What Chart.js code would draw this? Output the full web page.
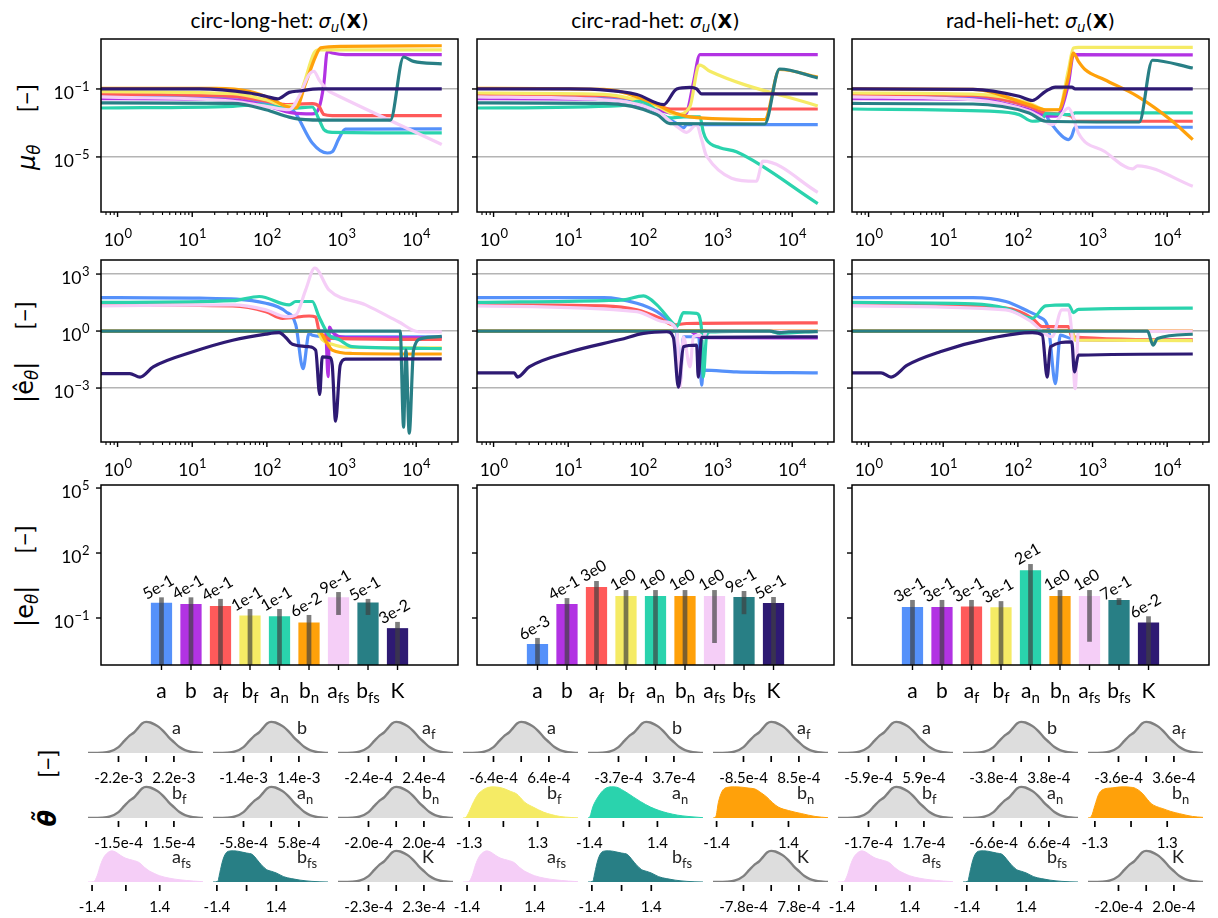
<!DOCTYPE html>
<html>
<head>
<meta charset="utf-8">
<script src="https://cdn.jsdelivr.net/npm/chart.js@4.4.1/dist/chart.umd.min.js"></script>
<style>
  body { margin: 0; background: #fff; }
  #fig { position: relative; width: 1218px; height: 918px; overflow: hidden; background: #fff; font-family: Lato, "DejaVu Sans", sans-serif; color: #000; }
  #fig canvas { position: absolute; }
  .title { position: absolute; top: 7px; width: 357px; text-align: center; font-size: 21px; line-height: 26px; white-space: nowrap; }
  .m { font-family: "DejaVu Sans", sans-serif; }
  .title .m { font-size: 19px; }
  .sub { font-size: 70%; position: relative; top: 0.3em; }
  .ylab { position: absolute; transform: translate(-50%, -50%) rotate(-90deg); font-size: 24px; line-height: 1; white-space: nowrap; }
  .gap { display: inline-block; width: 32px; }
</style>
</head>
<body>
<div id="fig">
  <div class="ylab" style="left:26px;top:127px"><span class="m"><i>μ</i><span class="sub"><i>θ</i></span></span><span class="gap"></span>[−]</div>
  <div class="ylab" style="left:24px;top:352px"><span class="m">|ê<span class="sub"><i>θ</i></span>|</span><span class="gap"></span>[−]</div>
  <div class="ylab" style="left:24px;top:576px"><span class="m">|e<span class="sub"><i>θ</i></span>|</span><span class="gap"></span>[−]</div>
  <div class="ylab" style="left:47px;top:788px"><span class="m"><b><i>θ̃</i></b></span><span class="gap"></span>[−]</div>
</div>
<script>
// ---- data ----
const cases = ['circ-long-het', 'circ-rad-het', 'rad-heli-het'];
const params = ['a', 'b', 'af', 'bf', 'an', 'bn', 'afs', 'bfs', 'K'];
const paramColors = ['#5591fa', '#b233e3', '#ff5a5a', '#f5eb65', '#2ad3ad', '#ffa10a', '#f5cef7', '#287f85', '#2e1a73'];

// mean of parameter vs iteration, [iteration, value]
const muLong_a = [[0.6,0.041],[35,0.034],[97,0.015],[220,0.006],[244,0.0035],[406,6.6e-5],[644,1.7e-5],[751,2.0e-5],[921,1.2e-4],[1130,4.3e-4],[22000,4.5e-4]];
const muLong_b = [[0.6,0.027],[35,0.023],[97,0.0105],[220,0.0039],[406,0.0034],[499,0.0076],[581,0.22],[644,16],[751,13],[1130,10.5],[22000,10.5]];
const muLong_af = [[0.6,0.049],[35,0.037],[97,0.019],[179,0.012],[406,0.0137],[499,0.0095],[581,0.0031],[751,0.0027],[22000,0.0027]];
const muLong_bf = [[0.6,0.069],[35,0.053],[97,0.023],[179,0.0105],[244,0.0105],[315,0.22],[428,13],[499,20],[22000,20]];
const muLong_an = [[0.6,0.0076],[35,0.0095],[79,0.012],[162,0.0076],[220,0.0073],[406,0.0087],[499,0.0016],[581,4.1e-4],[751,2.8e-4],[22000,2.6e-4]];
const muLong_bn = [[0.6,0.11],[21,0.11],[58,0.073],[119,0.024],[179,0.0095],[244,0.0076],[331,0.22],[450,8.4],[525,26],[1020,32],[22000,35]];
const muLong_afs = [[0.6,0.034],[35,0.019],[97,0.0095],[199,0.006],[270,0.037],[367,0.7],[428,1.1],[499,0.35],[678,0.073],[751,0.058],[22000,5.4e-5]];
const muLong_bfs = [[0.6,0.015],[35,0.014],[97,0.006],[199,0.0022],[270,0.0017],[751,0.00145],[4500,0.00145],[6780,7.6],[9210,4.2],[22000,3.0]];
const muLong_K = [[0.6,0.1],[12.5,0.1],[58,0.058],[97,0.037],[139,0.026],[199,0.063],[270,0.076],[499,0.1],[22000,0.1]];

const muRad_a = [[0.6,0.037],[30,0.033],[83,0.019],[189,0.0025],[284,9.1e-4],[349,5.1e-4],[386,7.9e-4],[22000,7.9e-4]];
const muRad_b = [[0.6,0.027],[30,0.024],[154,0.006],[231,0.0039],[349,0.0031],[386,0.004],[474,0.22],[581,10.5],[22000,10.5]];
const muRad_af = [[0.6,0.047],[30,0.04],[154,0.012],[231,0.0066],[22000,0.0066]];
const muRad_bf = [[0.6,0.058],[30,0.048],[154,0.0095],[284,0.0031],[428,0.0095],[552,2.2],[581,2.5],[790,1.1],[22000,0.01]];
const muRad_an = [[0.6,0.0076],[50,0.0105],[92,0.019],[231,0.002],[349,0.0023],[581,0.0023],[644,3e-4],[714,1.0e-4],[1074,3.5e-5],[1790,2.0e-5],[22000,1.8e-8]];
const muRad_bn = [[0.6,0.11],[30,0.095],[154,0.012],[231,0.0049],[428,0.0023],[4280,0.0016],[6780,1.4],[22000,0.5]];
const muRad_afs = [[0.6,0.034],[30,0.023],[154,0.0049],[284,6.3e-4],[386,2.8e-4],[525,7.9e-4],[612,1.05e-4],[714,1.1e-5],[3310,3.7e-7],[4060,5.6e-6],[22000,8.3e-8]];
const muRad_bfs = [[0.6,0.015],[30,0.014],[154,0.0031],[231,9.1e-4],[4280,8.7e-4],[6780,1.5],[22000,0.44]];
const muRad_K = [[0.6,0.1],[10.7,0.1],[83,0.047],[189,0.012],[284,0.1],[428,0.125],[525,0.1],[612,0.051],[22000,0.051]];

const muHeli_a = [[0.6,0.037],[25,0.034],[141,0.0095],[235,0.0031],[259,0.0015],[389,1.7e-4],[477,1.05e-4],[527,1.7e-4],[585,5.6e-4],[22000,5.6e-4]];
const muHeli_b = [[0.6,0.027],[25,0.025],[141,0.006],[235,0.0027],[318,0.0025],[352,0.0031],[477,0.22],[555,10.5],[22000,10]];
const muHeli_af = [[0.6,0.047],[25,0.042],[141,0.0095],[235,0.0039],[527,0.0025],[585,0.00126],[22000,0.00126]];
const muHeli_bf = [[0.6,0.058],[25,0.05],[141,0.015],[235,0.006],[352,0.006],[477,1.4],[555,26],[647,28],[22000,28]];
const muHeli_an = [[0.6,0.0066],[42,0.0049],[104,0.0031],[156,0.00126],[212,0.0016],[235,0.0036],[527,0.0031],[585,0.0039],[22000,0.0039]];
const muHeli_bn = [[0.6,0.1],[25,0.095],[141,0.012],[235,0.006],[352,0.006],[477,0.56],[555,13],[647,4.2],[792,1.4],[1455,0.35],[4010,0.037],[11000,0.0016],[22000,1.05e-4]];
const muHeli_afs = [[0.6,0.034],[25,0.023],[141,0.0049],[191,0.0025],[287,7.9e-4],[477,0.0076],[527,0.0039],[647,2.6e-4],[1455,2.1e-5],[3440,2.0e-6],[4010,3.0e-6],[22000,1.9e-7]];
const muHeli_bfs = [[0.6,0.014],[25,0.013],[141,0.0039],[235,0.00126],[4220,0.00114],[6340,4.9],[22000,1.7]];
const muHeli_K = [[0.6,0.1],[25,0.095],[104,0.037],[156,0.021],[235,0.073],[318,0.13],[527,0.13],[585,0.1],[22000,0.1]];

// relative error estimate vs iteration
const eLong_a = [[0.6,58],[12.5,54],[97,29],[179,10.5],[244,2.1],[305,0.0105],[367,0.75],[406,0.6],[750,0.5],[22000,0.5]];
const eLong_b = [[0.6,1],[612,1],[660,0.004],[690,1.6],[750,0.9],[1130,0.45],[22000,0.44]];
const eLong_af = [[0.6,24],[35,21],[97,10.5],[162,4.7],[367,6.2],[450,5.5],[499,1.1],[751,0.41],[22000,0.36]];
const eLong_bf = [[0.6,1],[470,1],[550,0.35],[750,0.2],[1130,0.14],[22000,0.13]];
const eLong_an = [[0.6,32],[35,40],[79,66],[199,24],[244,36],[406,36],[499,5.7],[678,0.61],[921,0.36],[1387,0.15],[22000,0.12]];
const eLong_bn = [[0.6,1],[499,1],[612,0.3],[751,0.1],[1387,0.066],[22000,0.062]];
const eLong_afs = [[0.6,21],[35,24],[97,13],[179,5.7],[244,7],[331,148],[438,2080],[678,148],[2100,24],[5800,3.1],[10700,0.92],[22000,0.9]];
const eLong_bfs = [[0.6,1],[6100,1],[6780,8.7e-6],[7280,0.1],[8070,4.2e-6],[9210,0.1],[11900,0.41],[22000,0.52]];
const eLong_K = [[0.6,0.0057],[1.46,0.0057],[2.0,0.0038],[3.0,0.013],[10.2,0.081],[34.8,0.33],[97,0.69],[146,0.82],[179,0.46],[220,0.2],[367,0.15],[450,0.099],[510,4.6e-4],[552,0.044],[700,0.04],[751,0.016],[832,1.8e-5],[960,0.016],[1130,0.033],[22000,0.034]];

const eRad_a = [[0.6,58],[30,58],[83,29],[154,10.5],[231,3.1],[284,0.75],[315,0.0021],[349,0.5],[560,0.5],[612,0.0014],[644,0.0087],[1790,0.0071],[22000,0.0063]];
const eRad_b = [[0.6,1],[428,1],[525,0.6],[612,0.45],[22000,0.44]];
const eRad_af = [[0.6,24],[30,21],[83,13],[170,4.7],[256,2.1],[386,2.5],[22000,2.7]];
const eRad_bf = [[0.6,1],[22000,1.04]];
const eRad_an = [[0.6,32],[30,40],[55,44],[102,71],[154,24],[231,3.8],[284,1.7],[349,9.3],[525,8.6],[612,1.13],[644,0.0038],[714,0.61],[790,0.9],[4990,1],[6780,0.75],[22000,1.0]];
const eRad_bn = [[0.6,1],[22000,1.04]];
const eRad_afs = [[0.6,21],[83,10.5],[189,3.1],[284,1.13],[315,0.0011],[349,0.5],[428,0.013],[474,0.5],[581,0.61],[644,0.41],[714,1],[22000,1.0]];
const eRad_bfs = [[0.6,1],[4990,1],[6780,0.82],[9000,0.92],[22000,0.93]];
const eRad_K = [[0.6,0.0063],[1.89,0.0063],[2.09,0.0038],[3.0,0.013],[10.7,0.081],[49.9,0.36],[102,0.75],[209,0.92],[256,0.46],[299,0.0011],[349,0.15],[525,0.18],[552,0.0038],[612,0.46],[22000,0.49]];

const eHeli_a = [[0.6,58],[25,58],[69,36],[141,10.5],[191,5.7],[259,1.13],[318,0.0017],[370,0.61],[527,0.4],[22000,0.32]];
const eHeli_b = [[0.6,1],[527,1],[585,0.35],[22000,0.32]];
const eHeli_af = [[0.6,30],[69,16],[156,4.7],[212,1.7],[477,1.7],[527,0.5],[22000,0.34]];
const eHeli_bf = [[0.6,1],[527,1],[585,0.33],[22000,0.31]];
const eHeli_an = [[0.6,32],[25,27],[69,16],[156,4.7],[235,21],[477,24],[555,9.3],[647,14],[22000,16]];
const eHeli_bn = [[0.6,1],[22000,1.04]];
const eHeli_afs = [[0.6,21],[69,13],[141,3.8],[287,0.5],[389,13],[477,13],[527,0.75],[585,9.3e-4],[647,0.92],[22000,1.0]];
const eHeli_bfs = [[0.6,1],[5450,1],[6470,0.18],[7380,0.41],[22000,0.68]];
const eHeli_K = [[0.6,0.0063],[1.47,0.0063],[2.0,0.0038],[3.3,0.016],[9.1,0.081],[42,0.41],[156,0.82],[212,0.61],[247,0.0038],[273,0.15],[527,0.27],[572,0.0071],[647,0.054],[22000,0.062]];

// final relative error with spread
const errLong = [0.5, 0.44, 0.36, 0.13, 0.12, 0.062, 0.9, 0.52, 0.034];
const errLongHi = [0.9, 0.9, 0.76, 0.26, 0.26, 0.138, 1.58, 0.76, 0.066];
const errLongLo = [0, 0, 0, 0, 0, 0, 0.138, 0.138, 0];
const errRad = [0.0063, 0.44, 2.7, 1.04, 1.04, 1.04, 1.04, 0.93, 0.49];
const errRadHi = [0.012, 0.83, 5.1, 1.95, 1.95, 1.95, 1.95, 1.76, 0.93];
const errRadLo = [0, 0, 0, 0, 0, 0, 0.007, 0.15, 0];
const errHeli = [0.32, 0.32, 0.34, 0.31, 16, 1.04, 1.04, 0.68, 0.062];
const errHeliHi = [0.68, 0.68, 0.68, 0.6, 31, 1.95, 1.95, 0.83, 0.12];
const errHeliLo = [0, 0, 0, 0, 0, 0, 0.008, 0.4, 0];

// posterior densities, standardized x (1 = one tick step)
const kdeTickLong = [2.2e-3, 1.4e-3, 2.4e-4, 1.5e-4, 5.8e-4, 2.0e-4, 1.4, 1.4, 2.3e-4];
const kdeTickRad = [6.4e-4, 3.7e-4, 8.5e-4, 1.3, 1.4, 1.4, 1.4, 1.4, 7.8e-4];
const kdeTickHeli = [5.9e-4, 3.8e-4, 3.6e-4, 1.7e-4, 6.6e-4, 1.3, 1.4, 1.4, 2.0e-4];
const kdeShapeLong = ['grey', 'grey', 'grey', 'grey', 'grey', 'grey', 'afs', 'bfs', 'grey'];
const kdeShapeRad = ['grey', 'grey', 'grey', 'bfRad', 'anRad', 'bnRad', 'afs', 'bfs', 'grey'];
const kdeShapeHeli = ['grey', 'grey', 'grey', 'grey', 'grey', 'bnHeli', 'afs', 'bfs', 'grey'];

const kdeGreyZ = [-2.1,-1.6,-1.3,-1.0,-0.8,-0.6,-0.45,-0.3,-0.15,0,0.15,0.3,0.45,0.6,0.8,1.0,1.2,1.4,1.6,1.8,2.05];
const kdeGreyY = [0,0.01,0.05,0.19,0.38,0.56,0.65,0.8,0.95,1.0,0.98,0.92,0.84,0.72,0.52,0.35,0.19,0.09,0.04,0.015,0];
const kdeAfsZ = [-1.12,-0.95,-0.85,-0.75,-0.65,-0.55,-0.42,-0.3,-0.15,0,0.2,0.4,0.55,0.7,0.85,1.0,1.3,1.6,2.0,2.28];
const kdeAfsY = [0,0.01,0.2,0.55,0.8,0.93,1.0,0.96,0.85,0.76,0.7,0.62,0.47,0.35,0.27,0.2,0.12,0.07,0.03,0.01];
const kdeBfsZ = [-1.13,-0.97,-0.9,-0.8,-0.7,-0.6,-0.45,-0.3,-0.15,0,0.2,0.35,0.5,0.67,0.85,1.0,1.25,1.5,1.8,2.2,2.74];
const kdeBfsY = [0,0.02,0.3,0.7,0.92,0.99,1.0,0.99,0.96,0.93,0.88,0.72,0.55,0.4,0.34,0.29,0.17,0.11,0.06,0.02,0];
const kdeBfRadZ = [-1.18,-1.1,-1.0,-0.9,-0.75,-0.6,-0.45,-0.3,-0.1,0.05,0.2,0.39,0.5,0.63,0.87,1.17,1.4,1.65,2.0,2.18];
const kdeBfRadY = [0,0.02,0.2,0.45,0.75,0.9,0.98,1.0,0.98,0.93,0.86,0.77,0.65,0.5,0.35,0.19,0.11,0.05,0.015,0.005];
const kdeAnRadZ = [-1.04,-0.98,-0.9,-0.75,-0.55,-0.35,-0.2,0,0.15,0.3,0.5,0.8,1.05,1.3,1.6,1.9,2.34];
const kdeAnRadY = [0,0.05,0.35,0.67,0.93,1.0,0.99,0.88,0.78,0.67,0.53,0.35,0.24,0.16,0.09,0.05,0.01];
const kdeBnRadZ = [-1.1,-1.02,-0.95,-0.85,-0.72,-0.5,-0.3,-0.1,0.07,0.25,0.4,0.55,0.72,1.0,1.37,1.74,2.1];
const kdeBnRadY = [0,0.05,0.5,0.85,0.98,1.0,0.99,0.96,0.93,0.8,0.67,0.5,0.35,0.24,0.14,0.05,0.01];
const kdeBnHeliZ = [-1.19,-1.1,-1.0,-0.9,-0.8,-0.5,-0.25,0.05,0.2,0.33,0.45,0.56,0.7,0.88,1.1,1.34,1.7,1.99];
const kdeBnHeliY = [0,0.05,0.4,0.75,0.9,0.97,1.0,0.98,0.9,0.77,0.6,0.46,0.37,0.3,0.21,0.14,0.05,0.02];

// ---- layout ----
const FONT = 'Lato, "DejaVu Sans", sans-serif';
Chart.defaults.font.family = FONT;
const colLeft = [101, 477, 852];
const PW = 357;
const rowTop = [39, 260, 485];
const rowH = [173, 182, 180];
const AX_W = 70, AX_H = 45, PAD_T = 12, PAD_R = 12;
const X_MIN = 0.607, X_MAX = 36300;
const kdeBase = [753, 818, 882];
const kdeW = 115, kdeStep = 125, kdeX0 = 88;

const fig = document.getElementById('fig');

function placeCanvas(left, top, w, h) {
  const c = document.createElement('canvas');
  c.width = w; c.height = h;
  c.style.left = left + 'px'; c.style.top = top + 'px';
  c.style.width = w + 'px'; c.style.height = h + 'px';
  fig.appendChild(c);
  return c;
}

function seg(ctx, x1, y1, x2, y2) {
  ctx.beginPath(); ctx.moveTo(x1, y1); ctx.lineTo(x2, y2); ctx.stroke();
}

function drawPow(ctx, exp, x, y, align) {
  const base = '10', sup = exp < 0 ? '\u2212' + (-exp) : String(exp);
  ctx.font = '17.5px ' + FONT; const wb = ctx.measureText(base).width;
  ctx.font = '13px ' + FONT; const ws = ctx.measureText(sup).width;
  const x0 = align === 'center' ? x - (wb + ws) / 2 : x - wb - ws;
  ctx.textAlign = 'left'; ctx.textBaseline = 'alphabetic';
  ctx.font = '17.5px ' + FONT; ctx.fillText(base, x0, y);
  ctx.font = '13px ' + FONT; ctx.fillText(sup, x0 + wb + 0.5, y - 8);
}

function drawSubLabel(ctx, name, x, y, size, align) {
  const main = name[0], sub = name.slice(1);
  ctx.font = size + 'px ' + FONT; const wm = ctx.measureText(main).width;
  ctx.font = (size * 0.72) + 'px ' + FONT; const ws = ctx.measureText(sub).width;
  const x0 = align === 'center' ? x - (wm + ws) / 2 : x;
  ctx.textAlign = 'left'; ctx.textBaseline = 'alphabetic';
  ctx.font = size + 'px ' + FONT; ctx.fillText(main, x0, y);
  if (sub) { ctx.font = (size * 0.72) + 'px ' + FONT; ctx.fillText(sub, x0 + wm, y + size * 0.25); }
}

const xMajorLog = [1, 10, 100, 1000, 10000];
const xMinorLog = [];
for (let k = -1; k <= 4; k++) for (let m = 2; m <= 9; m++) {
  const v = m * Math.pow(10, k);
  if (v > X_MIN && v < X_MAX) xMinorLog.push(v);
}

function axisDeco(opt) {
  return {
    id: 'axisDeco',
    afterDraw(chart) {
      const { ctx, chartArea: a } = chart;
      const xs = chart.scales.x, ys = chart.scales.y;
      ctx.save();
      ctx.strokeStyle = '#000'; ctx.fillStyle = '#000';
      ctx.lineWidth = 1.1;
      (opt.xMinor || []).forEach(v => { const px = xs.getPixelForValue(v); seg(ctx, px, a.bottom, px, a.bottom + 3); });
      ctx.lineWidth = 1.4;
      opt.xMajor.forEach(v => { const px = xs.getPixelForValue(v); seg(ctx, px, a.bottom, px, a.bottom + 5); });
      opt.yMajor.forEach(v => { const py = ys.getPixelForValue(v); seg(ctx, a.left - 5, py, a.left, py); });
      if (opt.xKind === 'log') {
        opt.xMajor.forEach(v => drawPow(ctx, Math.round(Math.log10(v)), xs.getPixelForValue(v), a.bottom + 34, 'center'));
      } else {
        opt.xMajor.forEach((v, i) => drawSubLabel(ctx, params[i], xs.getPixelForValue(v), a.bottom + 33, 21, 'center'));
      }
      if (opt.yLabels) {
        opt.yMajor.forEach(v => drawPow(ctx, Math.round(Math.log10(v)), a.left - 12, ys.getPixelForValue(v) + 10, 'right'));
      }
      ctx.lineWidth = 1.5;
      ctx.strokeRect(a.left, a.top, a.right - a.left, a.bottom - a.top);
      ctx.restore();
    }
  };
}

function baseOptions() {
  return {
    responsive: false, animation: false, devicePixelRatio: 1,
    layout: { padding: { top: PAD_T, right: PAD_R, left: 0, bottom: 0 } },
    plugins: { legend: { display: false }, tooltip: { enabled: false } },
    events: []
  };
}

function makeLinePanel(col, row, series, yMin, yMax, yMajor) {
  const cv = placeCanvas(colLeft[col] - AX_W, rowTop[row] - PAD_T, PW + AX_W + PAD_R, rowH[row] + PAD_T + AX_H);
  const datasets = series.map((s, i) => ({
    data: s.map(p => ({ x: p[0], y: p[1] })),
    borderColor: paramColors[i], borderWidth: 3.2, pointRadius: 0,
    cubicInterpolationMode: 'monotone', fill: false, order: params.length - i
  }));
  const options = baseOptions();
  options.scales = {
    x: { type: 'logarithmic', min: X_MIN, max: X_MAX, afterFit: s => { s.height = AX_H; },
         grid: { display: false }, border: { display: false }, ticks: { display: false } },
    y: { type: 'logarithmic', min: yMin, max: yMax, afterFit: s => { s.width = AX_W; },
         afterBuildTicks: s => { s.ticks = yMajor.map(v => ({ value: v })); },
         grid: { color: '#b4b4b4', lineWidth: 1.5, drawTicks: false },
         border: { display: false }, ticks: { display: false } }
  };
  new Chart(cv, {
    type: 'line', data: { datasets }, options,
    plugins: [axisDeco({ xKind: 'log', xMajor: xMajorLog, xMinor: xMinorLog, yMajor, yLabels: col === 0 })]
  });
}

function fmtExp(v) { return v.toExponential(0).replace('+', ''); }

function errBars(vals, hi, lo) {
  return {
    id: 'errBars',
    afterDatasetsDraw(chart) {
      const { ctx, chartArea: a } = chart;
      const xs = chart.scales.x, ys = chart.scales.y;
      ctx.save();
      ctx.beginPath(); ctx.rect(a.left, a.top, a.right - a.left, a.bottom - a.top); ctx.clip();
      ctx.strokeStyle = 'rgba(64,64,64,0.68)'; ctx.lineWidth = 4.7;
      vals.forEach((v, i) => {
        const px = xs.getPixelForValue(i);
        const yt = ys.getPixelForValue(hi[i]);
        const yb = lo[i] > 0 ? ys.getPixelForValue(lo[i]) : a.bottom + 5;
        seg(ctx, px, yt, px, yb);
      });
      ctx.restore();
      ctx.save();
      ctx.fillStyle = '#000'; ctx.font = '16px ' + FONT;
      ctx.textAlign = 'center'; ctx.textBaseline = 'middle';
      vals.forEach((v, i) => {
        const px = xs.getPixelForValue(i);
        const yt = ys.getPixelForValue(hi[i]);
        ctx.save();
        ctx.translate(px - 3, yt - 10);
        ctx.rotate(-Math.PI / 6);
        ctx.fillText(fmtExp(v), 0, 0);
        ctx.restore();
      });
      ctx.restore();
    }
  };
}

function makeBarPanel(col, vals, hi, lo) {
  const cv = placeCanvas(colLeft[col] - AX_W, rowTop[2] - PAD_T, PW + AX_W + PAD_R, rowH[2] + PAD_T + AX_H);
  const options = baseOptions();
  const yMajor = [1e-1, 1e2, 1e5];
  options.scales = {
    x: { type: 'linear', min: -0.84, max: 8.84, afterFit: s => { s.height = AX_H; },
         grid: { display: false }, border: { display: false }, ticks: { display: false } },
    y: { type: 'logarithmic', min: Math.pow(10, -3.17), max: Math.pow(10, 5.14), afterFit: s => { s.width = AX_W; },
         grid: { display: false }, border: { display: false }, ticks: { display: false } }
  };
  new Chart(cv, {
    type: 'bar',
    data: { datasets: [{ data: vals.map((v, i) => ({ x: i, y: v })), backgroundColor: paramColors,
                         categoryPercentage: 1, barPercentage: 0.72 }] },
    options,
    plugins: [errBars(vals, hi, lo),
              axisDeco({ xKind: 'cat', xMajor: params.map((p, i) => i), yMajor, yLabels: col === 0 })]
  });
}

const kdeShapes = {
  grey: [kdeGreyZ, kdeGreyY], afs: [kdeAfsZ, kdeAfsY], bfs: [kdeBfsZ, kdeBfsY],
  bfRad: [kdeBfRadZ, kdeBfRadY], anRad: [kdeAnRadZ, kdeAnRadY], bnRad: [kdeBnRadZ, kdeBnRadY],
  bnHeli: [kdeBnHeliZ, kdeBnHeliY]
};

function fmtKde(v) { return v >= 0.1 ? v.toFixed(1) : v.toExponential(1); }

function kdeDeco(name, tick) {
  return {
    id: 'kdeDeco',
    afterDraw(chart) {
      const { ctx, chartArea: a } = chart;
      const xs = chart.scales.x;
      ctx.save();
      ctx.strokeStyle = '#000'; ctx.lineWidth = 1.7;
      [-1, 0, 1].forEach(z => { const px = xs.getPixelForValue(z); seg(ctx, px, a.bottom + 3, px, a.bottom + 9); });
      ctx.fillStyle = '#000'; ctx.font = '15px ' + FONT;
      ctx.textAlign = 'center'; ctx.textBaseline = 'alphabetic';
      ctx.fillText('-' + fmtKde(tick), xs.getPixelForValue(-1), a.bottom + 30);
      ctx.fillText(fmtKde(tick), xs.getPixelForValue(1), a.bottom + 30);
      ctx.fillStyle = '#222';
      drawSubLabel(ctx, name, a.left + 84, a.bottom - 19, 18, 'left');
      ctx.restore();
    }
  };
}

function makeKde(col, idx, shapeKey, tick) {
  const r = Math.floor(idx / 3), c = idx % 3;
  const left = kdeX0 + kdeStep * (3 * col + c);
  const base = kdeBase[r];
  const cv = placeCanvas(left - 30, base - 42, kdeW + 60, 82);
  const [zs, ys] = kdeShapes[shapeKey];
  const grey = shapeKey === 'grey';
  const fillCol = grey ? '#dddddd' : paramColors[idx];
  new Chart(cv, {
    type: 'line',
    data: { datasets: [{ data: zs.map((z, i) => ({ x: z, y: ys[i] })), fill: 'origin',
                         backgroundColor: fillCol, borderColor: grey ? '#808080' : fillCol,
                         borderWidth: grey ? 2.4 : 1, pointRadius: 0, cubicInterpolationMode: 'monotone' }] },
    options: {
      responsive: false, animation: false, devicePixelRatio: 1, events: [],
      layout: { padding: { left: 30, right: 30, top: 9, bottom: 40 } },
      plugins: { legend: { display: false }, tooltip: { enabled: false } },
      scales: { x: { type: 'linear', display: false, min: zs[0], max: zs[zs.length - 1] },
                y: { type: 'linear', display: false, min: 0, max: 1.06 } }
    },
    plugins: [kdeDeco(params[idx], tick)]
  });
}

// ---- build ----
cases.forEach((name, col) => {
  const t = document.createElement('div');
  t.className = 'title';
  t.style.left = colLeft[col] + 'px';
  t.innerHTML = name + ': <span class="m"><i>σ</i><span class="sub"><i>u</i></span>(<b>X</b>)</span>';
  fig.appendChild(t);
});

const muSets = [
  [muLong_a, muLong_b, muLong_af, muLong_bf, muLong_an, muLong_bn, muLong_afs, muLong_bfs, muLong_K],
  [muRad_a, muRad_b, muRad_af, muRad_bf, muRad_an, muRad_bn, muRad_afs, muRad_bfs, muRad_K],
  [muHeli_a, muHeli_b, muHeli_af, muHeli_bf, muHeli_an, muHeli_bn, muHeli_afs, muHeli_bfs, muHeli_K]
];
const eSets = [
  [eLong_a, eLong_b, eLong_af, eLong_bf, eLong_an, eLong_bn, eLong_afs, eLong_bfs, eLong_K],
  [eRad_a, eRad_b, eRad_af, eRad_bf, eRad_an, eRad_bn, eRad_afs, eRad_bfs, eRad_K],
  [eHeli_a, eHeli_b, eHeli_af, eHeli_bf, eHeli_an, eHeli_bn, eHeli_afs, eHeli_bfs, eHeli_K]
];
const barSets = [[errLong, errLongHi, errLongLo], [errRad, errRadHi, errRadLo], [errHeli, errHeliHi, errHeliLo]];
const kdeSets = [[kdeShapeLong, kdeTickLong], [kdeShapeRad, kdeTickRad], [kdeShapeHeli, kdeTickHeli]];

for (let col = 0; col < 3; col++) {
  makeLinePanel(col, 0, muSets[col], Math.pow(10, -8.24), Math.pow(10, 1.94), [1e-5, 1e-1]);
  makeLinePanel(col, 1, eSets[col], Math.pow(10, -5.84), Math.pow(10, 3.74), [1e-3, 1, 1e3]);
  makeBarPanel(col, barSets[col][0], barSets[col][1], barSets[col][2]);
  kdeSets[col][0].forEach((shape, i) => makeKde(col, i, shape, kdeSets[col][1][i]));
}
</script>
</body>
</html>
